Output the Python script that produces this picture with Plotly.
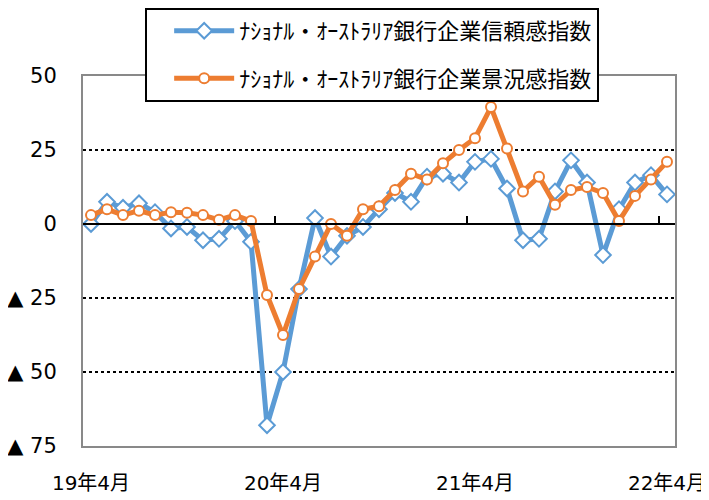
import plotly.graph_objects as go

months = [4, 5, 6, 7, 8, 9, 10, 11, 12, 1, 2, 3]
categories = []
for y in (19, 20, 21):
    for m in months:
        yy = y if m >= 4 else y + 1
        categories.append(f"{yy}年{m}月")
categories.append("22年4月")

tick_labels = ["19年4月", "20年4月", "21年4月", "22年4月"]

confidence = [0, 7.5, 5.5, 7, 4, -1.5, -1, -5.5, -5, 1,
              -6, -68, -50, -22, 2, -11, -4, -1, 5, 10.5,
              7.5, 16, 17, 14, 21, 22, 12, -5.5, -5, 11,
              21.5, 14, -10.5, 5, 14, 16.5, 10]
conditions = [3, 5, 3, 4.5, 3, 4, 3.8, 3, 1.4, 3,
              1, -24, -37.5, -22, -11, 0, -4, 5, 6, 11.5,
              17, 15, 20.5, 25, 29, 39.5, 25.5, 11, 16, 6.5,
              11.5, 12.5, 10.5, 1, 9.5, 15, 21]

y_tickvals = [50, 25, 0, -25, -50, -75]
y_ticktext = ["50", "25", "0", "▲ 25", "▲ 50", "▲ 75"]

name_conf = "ﾅｼｮﾅﾙ・ｵｰｽﾄﾗﾘｱ銀行企業信頼感指数"
name_cond = "ﾅｼｮﾅﾙ・ｵｰｽﾄﾗﾘｱ銀行企業景況感指数"

BLUE = "#5B9BD5"
ORANGE = "#ED7D31"
FONT = "Verdana, 'DejaVu Sans', 'Noto Sans CJK JP', sans-serif"

fig = go.Figure()
fig.add_trace(go.Scatter(
    x=categories, y=confidence, name=name_conf, mode="lines+markers",
    legendgroup="a",
    line=dict(color=BLUE, width=5),
    marker=dict(symbol="diamond", size=12, color="white",
                line=dict(color=BLUE, width=2)),
))
fig.add_trace(go.Scatter(
    x=categories, y=conditions, name=name_cond, mode="lines+markers",
    legendgroup="b",
    line=dict(color=ORANGE, width=5),
    marker=dict(symbol="circle", size=10, color="white",
                line=dict(color=ORANGE, width=2)),
))
# dummy trace to host the zero-line axis
fig.add_trace(go.Scatter(x=[0], y=[None], xaxis="x2", yaxis="y",
                         showlegend=False, hoverinfo="skip", mode="lines"))

n = len(categories)
fig.update_layout(
    width=701, height=492,
    margin=dict(l=75, r=34, t=68, b=54, autoexpand=False),
    paper_bgcolor="white", plot_bgcolor="white",
    font=dict(family=FONT, size=20, color="black"),
    showlegend=True,
    legend=dict(
        x=0.105, y=1.184, xanchor="left", yanchor="top",
        bgcolor="white", bordercolor="black", borderwidth=2,
        font=dict(size=22, family=FONT),
        tracegroupgap=16,
        itemwidth=60,
        indentation=22,
    ),
    xaxis=dict(
        type="category", range=[-0.5, n - 0.5],
        tickmode="array", tickvals=tick_labels, ticktext=tick_labels,
        ticks="", showgrid=False, zeroline=False,
        showline=True, linecolor="#898989", linewidth=2, mirror=True,
        tickfont=dict(size=20), ticklabelstandoff=18,
    ),
    xaxis2=dict(
        overlaying="x", anchor="free", position=0.6, side="bottom",
        range=[-0.5, n - 0.5], showgrid=False, zeroline=False,
        tickmode="array", tickvals=[-0.5, 11.5, 23.5, 35.5],
        ticks="inside", ticklen=7, tickwidth=2, tickcolor="black",
        showticklabels=False,
        showline=True, linecolor="black", linewidth=2,
    ),
    yaxis=dict(
        range=[-75, 50], tickmode="array",
        tickvals=y_tickvals, ticktext=y_ticktext,
        showgrid=True, gridcolor="black", griddash="dot", gridwidth=2,
        zeroline=False, ticks="",
        showline=True, linecolor="#898989", linewidth=2, mirror=True,
        tickfont=dict(size=21), ticklabelstandoff=20,
    ),
)

fig.write_html("out.html")
